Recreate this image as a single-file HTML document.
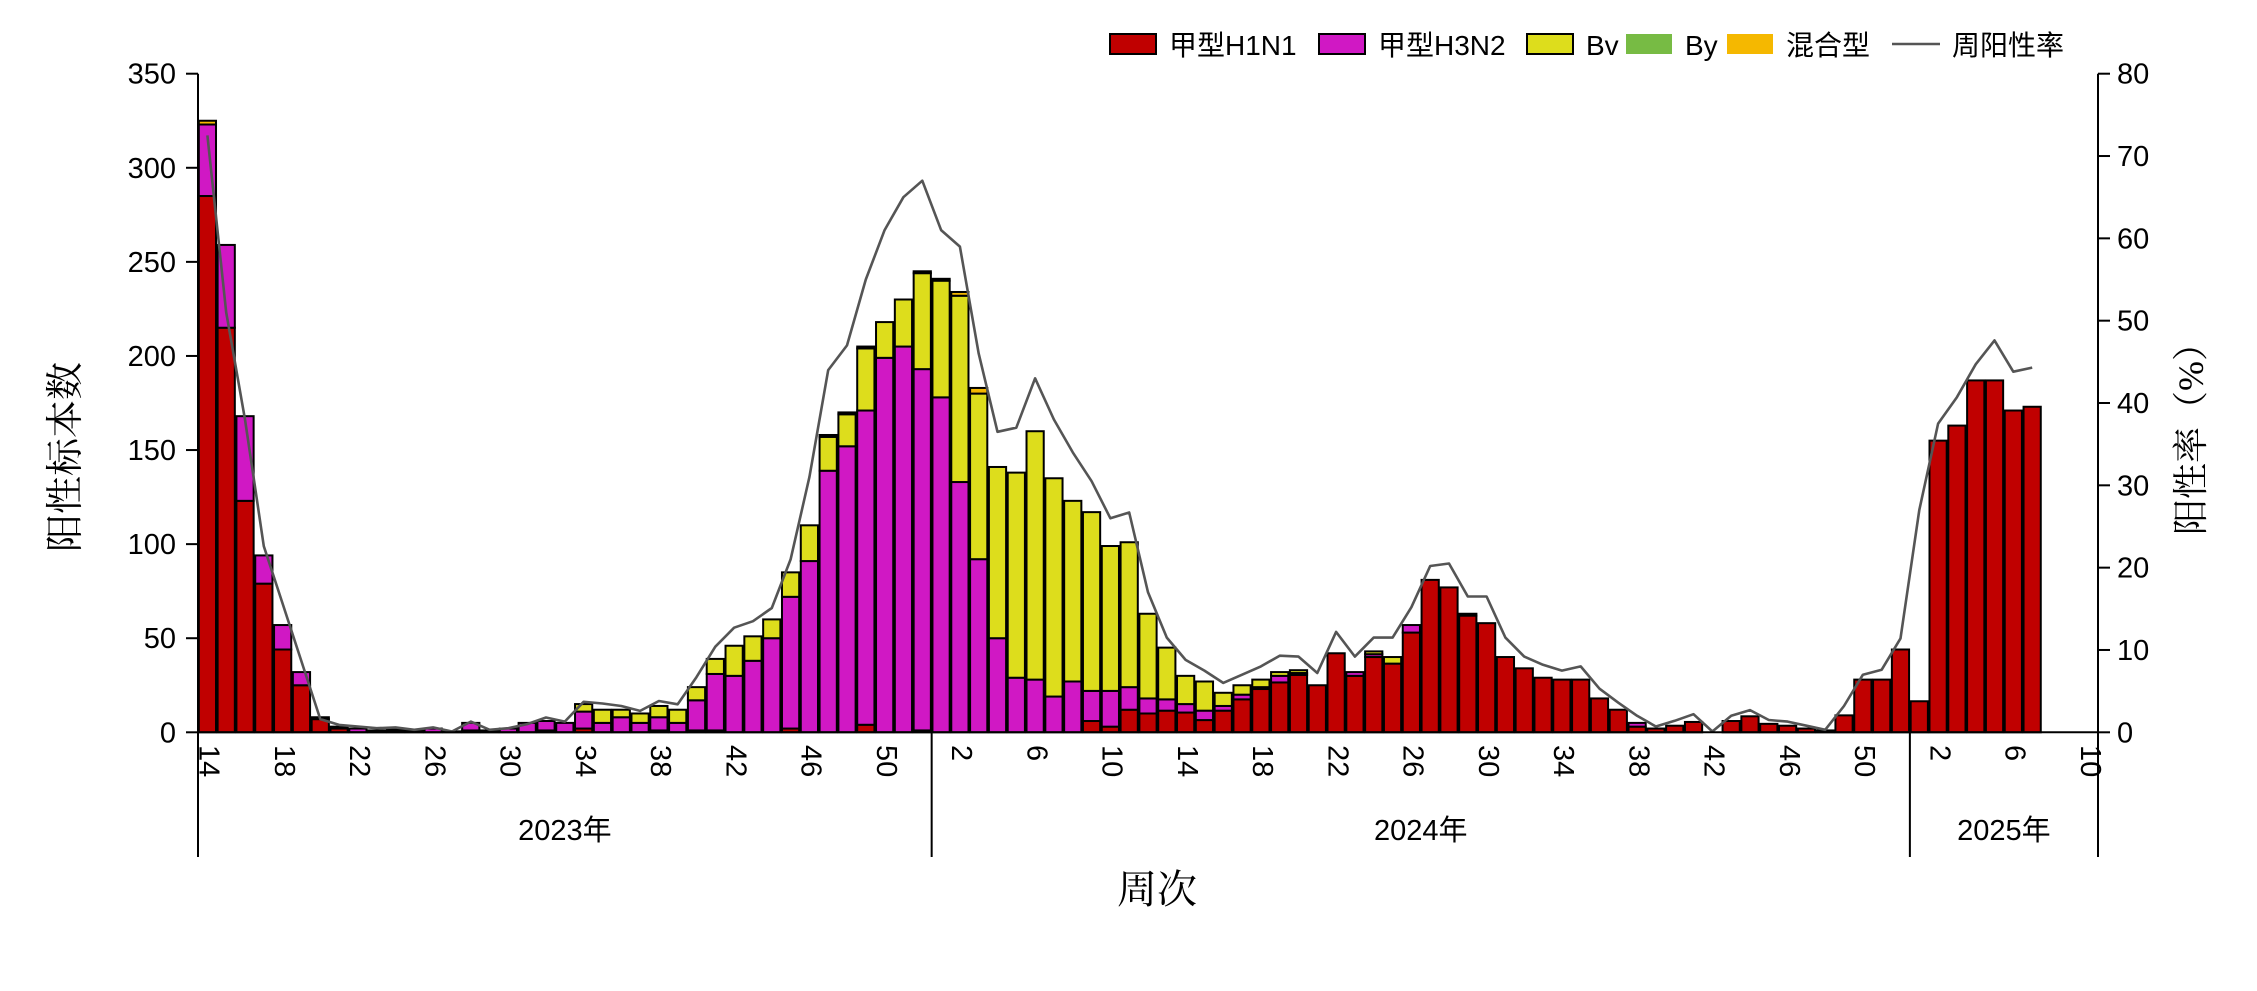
<!DOCTYPE html>
<html><head><meta charset="utf-8"><style>
html,body{margin:0;padding:0;background:#fff;}
svg{display:block;font-family:"Liberation Sans","Noto Sans CJK SC",sans-serif;}
</style></head><body>
<svg id="chart" width="2257" height="991" viewBox="0 0 2257 991" xmlns="http://www.w3.org/2000/svg">
<g id="plot"></g>
</svg>
<script>
// 2023 w14–w52, 2024 w1–w52, 2025 w1–w7
const yearNames = ["2023年","2024年","2025年"];
const yearWeeks = [[14,52],[1,52],[1,10]];
const h1n1 = [285,215,123,79,44,25,7,2,0,0,0.5,0,0,0,1,0,0,0,1,0,2,0,0,0,1,0,1,1,0,0,0,2,0,0,0,4,0,0,1,
 0,0,0,0,0,0,0,0,6,3,12,10,11.5,10.5,6.5,11.5,17.5,23,26.5,30.5,25,42,30,40,36.5,53,81,77,62,58,40,34,29,28,28,18,12,3,2,3.5,5.5,0,6,8.5,4.5,3.5,2,1,9,28,28,44,
 16.5,155,163,187,187,171,173];
const h3n2 = [38,44,45,15,13,7,1,1,2,1,1,1,2,0.5,4,1,2,5,5,5,9,5,8,5,7,5,16,30,30,38,50,70,91,139,152,167,199,205,192,
 178,133,92,50,29,28,19,27,16,19,12,8,6,4.5,5,2.5,2.5,1,3.5,1,0,0,2,1.5,0,4,0,0,1,0,0,0,0,0,0,0,0,2,0,0,0,0,0,0,0,0,0,0,0,0,0,0,
 0,0,0,0,0,0,0];
const bv = [0,0,0,0,0,0,0,0,0,0,0,0,0,0,0,0,0,0,0,0,4,7,4,5,6,7,7,8,16,13,10,13,19,18,17,33,19,25,51,
 62,99,88,91,109,132,116,96,95,77,77,45,27.5,15,15.5,7,5,4,2,1.5,0,0,0,1.5,3.5,0,0,0,0,0,0,0,0,0,0,0,0,0,0,0,0,0,0,0,0,0,0,0,0,0,0,0,
 0,0,0,0,0,0,0];
const by = new Array(98).fill(0);
const mixed = [2,0,0,0,0,0,0,0,0,0,0,0,0,0,0,0,0,0,0,0,0,0,0,0,0,0,0,0,0,0,0,0,0,1,1,1,0,0,1,
 1,2,3,0,0,0,0,0,0,0,0,0,0,0,0,0,0,0,0,0,0,0,0,0,0,0,0,0,0,0,0,0,0,0,0,0,0,0,0,0,0,0,0,0,0,0,0,0,0,0,0,0,
 0,0,0,0,0,0,0];
const rate = [72.5,51,38,22.6,15.6,8.6,1.6,0.9,0.7,0.5,0.6,0.3,0.6,0.1,1.3,0.3,0.5,1.0,1.8,1.3,
 3.7,3.5,3.2,2.6,3.8,3.4,6.7,10.4,12.7,13.5,15.1,21,31,44,47,55,61,65,67,
 61,59,46,36.5,37,43,38,34,30.5,26,26.7,17,11.5,8.8,7.5,6,7,8,9.3,9.2,7.2,12.2,9.2,11.5,11.5,15.2,20.2,20.5,16.5,16.5,11.5,9.2,8.2,7.5,8,5.3,3.6,2,0.7,1.4,2.2,0.1,2,2.7,1.5,1.3,0.8,0.3,3.2,7,7.6,11.4,
 27,37.5,40.7,44.7,47.6,43.8,44.3];
const leftTicks = [0,50,100,150,200,250,300,350];
const rightTicks = [0,10,20,30,40,50,60,70,80];
const seriesNames = ["甲型H1N1","甲型H3N2","Bv","By","混合型"];
const seriesColors = ["#C00000","#D018C4","#DDDD1C","#77BB44","#F5B800"];

const NS="http://www.w3.org/2000/svg";
const g=document.getElementById('plot');
const X0=198, X1=2098, Y0=732.3, YT=73.7;
let slots=0; yearWeeks.forEach(w=>slots+=w[1]-w[0]+1);
const slotW=(X1-X0)/slots;
const yL=v=>Y0-(v/350)*(Y0-YT);
const yR=v=>Y0-(v/80)*(Y0-YT);
const xC=i=>X0+(i+0.5)*slotW;
function mk(tag,attrs,parent){const e=document.createElementNS(NS,tag);for(const k in attrs)e.setAttribute(k,attrs[k]);(parent||g).appendChild(e);return e;}

// bars
const stacks=[h1n1,h3n2,bv,by,mixed];
for(let i=0;i<h1n1.length;i++){
  let base=0;
  const bg=mk('g',{});
  
  
  stacks.forEach((s,k)=>{
    const v=s[i]; if(!v) return;
    const r=mk('rect',{x:xC(i)-slotW/2+0.8,y:yL(base+v),width:slotW-1.6,height:yL(base)-yL(base+v),fill:seriesColors[k],stroke:'#000','stroke-width':2},bg);
    
    
    base+=v;
  });
}
// line
let d='';
rate.forEach((v,i)=>{d+=(i?'L':'M')+xC(i).toFixed(1)+' '+yR(v).toFixed(1);});
const ln=mk('path',{d:d,fill:'none',stroke:'#555','stroke-width':2.6,'stroke-linejoin':'round'});



// axes
const ax=mk('g',{stroke:'#000','stroke-width':2});


mk('line',{x1:X0,y1:YT,x2:X0,y2:857},ax);
mk('line',{x1:X1,y1:YT,x2:X1,y2:857},ax);
mk('line',{x1:X0,y1:Y0,x2:X1,y2:Y0},ax);
leftTicks.forEach(v=>{
  mk('line',{x1:X0-12,y1:yL(v),x2:X0,y2:yL(v)},ax);
  const t=mk('text',{x:176,y:yL(v)+10,'text-anchor':'end','font-size':29,fill:'#000'});
  
  
  t.textContent=v;
});
rightTicks.forEach(v=>{
  mk('line',{x1:X1,y1:yR(v),x2:X1+12,y2:yR(v)},ax);
  const t=mk('text',{x:2117,y:yR(v)+10,'font-size':29,fill:'#000'});
  
  
  t.textContent=v;
});
// week labels and year separators
let idx=0;
yearWeeks.forEach((w,yi)=>{
  const start=idx;
  for(let wk=w[0];wk<=w[1];wk++){
    if(((yi===0)&&(wk-14)%4===0)||(yi>0&&(wk-2)%4===0)){
      const t=mk('text',{x:0,y:0,'font-size':29,fill:'#000','dominant-baseline':'middle',transform:`translate(${xC(idx)},745) rotate(90)`});
      
      
      t.textContent=wk;
    }
    idx++;
  }
  if(yi>0) mk('line',{x1:X0+start*slotW,y1:Y0,x2:X0+start*slotW,y2:857},ax);
  const yt=mk('text',{x:X0+(start+idx)/2*slotW,y:840,'text-anchor':'middle','font-size':29,fill:'#000'});
  
  
  yt.textContent=yearNames[yi];
});
// titles
const serif='"Liberation Serif","Noto Serif CJK SC",serif';
let t=mk('text',{x:0,y:0,'text-anchor':'middle','font-size':38,'font-family':serif,transform:'translate(78,457) rotate(-90)'});
t.textContent='阳性标本数';
t=mk('text',{x:0,y:0,'text-anchor':'middle','font-size':36,'font-family':serif,transform:'translate(2203,430) rotate(-90)'});
t.textContent='阳性率（%）';
t=mk('text',{x:1157,y:903,'text-anchor':'middle','font-size':40,'font-family':serif});
t.textContent='周次';
// legend
const lg=mk('g',{});


const legX=[1110,1319,1527,1626,1727];
seriesNames.forEach((n,k)=>{
  const e=mk('g',{},lg);
  
  
  mk('rect',{x:legX[k],y:34,width:46,height:20,fill:seriesColors[k],stroke:(k===3||k===4)?'none':'#000','stroke-width':2},e);
  const tx=mk('text',{x:legX[k]+59,y:55,'font-size':28,fill:'#000'},e);
  tx.textContent=n;
});
const le=mk('g',{},lg);


mk('line',{x1:1892,y1:44,x2:1940,y2:44,stroke:'#555','stroke-width':2.6},le);
const lt=mk('text',{x:1952,y:55,'font-size':28,fill:'#000'},le);
lt.textContent='周阳性率';
</script>
</body></html>
